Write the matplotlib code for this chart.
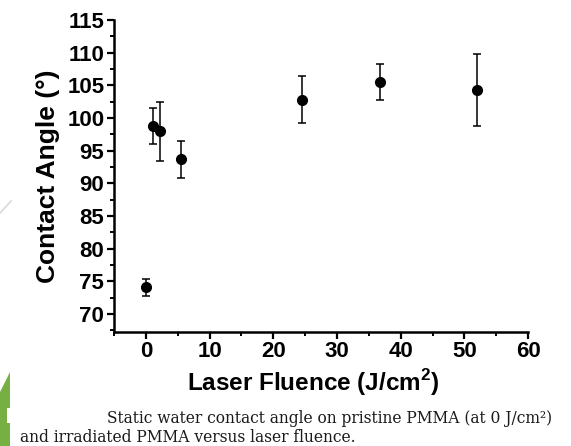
import matplotlib
matplotlib.use("Agg")
import matplotlib.pyplot as plt
from matplotlib.patches import Polygon, Rectangle
from matplotlib.lines import Line2D
from matplotlib.ticker import MultipleLocator

# laser fluence (J/cm^2) and static water contact angle (deg)
fluence = [0.0, 1.1, 2.2, 5.5, 24.5, 36.7, 52.0]
angle = [74.1, 98.8, 98.0, 93.7, 102.8, 105.5, 104.3]
angle_err = [1.3, 2.8, 4.5, 2.8, 3.6, 2.8, 5.5]

x_ticks = [0, 10, 20, 30, 40, 50, 60]
y_ticks = [70, 75, 80, 85, 90, 95, 100, 105, 110, 115]

caption_1 = "Static water contact angle on pristine PMMA (at 0 J/cm\u00b2)"
caption_2 = "and irradiated PMMA versus laser fluence."

plt.rcParams["font.family"] = ["Liberation Sans", "DejaVu Sans"]
plt.rcParams["mathtext.fontset"] = "custom"
plt.rcParams["mathtext.rm"] = "Liberation Sans"
plt.rcParams["mathtext.bf"] = "Liberation Sans:bold"

fig = plt.figure(figsize=(5.71, 4.46), dpi=100)
ax = fig.add_axes([0.1997, 0.2563, 0.7253, 0.6987])

ax.errorbar(fluence, angle, yerr=angle_err, fmt="o", color="black",
            markersize=7, elinewidth=1.1, capsize=3, capthick=1.1)

ax.set_xlim(-5, 60)
ax.set_ylim(67.3, 115)
ax.set_xticks(x_ticks)
ax.set_yticks(y_ticks)
ax.xaxis.set_minor_locator(MultipleLocator(5))
ax.yaxis.set_minor_locator(MultipleLocator(2.5))

for side in ["top", "right"]:
    ax.spines[side].set_visible(False)
for side in ["left", "bottom"]:
    ax.spines[side].set_linewidth(1.8)

ax.tick_params(which="major", direction="out", length=5, width=1.6,
               labelsize=16, pad=2)
ax.tick_params(which="minor", direction="out", length=3, width=1.4)
for lab in ax.get_xticklabels() + ax.get_yticklabels():
    lab.set_fontweight("bold")

ax.set_xlabel(r"Laser Fluence (J/cm$^{\mathbf{2}}$)", fontsize=17.5,
              fontweight="bold")
ax.xaxis.set_label_coords(0.48, -0.113)
ax.set_ylabel("Contact Angle (\u00b0)", fontsize=19, fontweight="bold",
              labelpad=5)

# caption under the chart
fig.text(107 / 571, 1 - 423 / 446, caption_1, family="DejaVu Serif",
         fontsize=11.2, color="#1a1a1a", va="baseline")
fig.text(20 / 571, 1 - 442 / 446, caption_2, family="DejaVu Serif",
         fontsize=11.2, color="#1a1a1a", va="baseline")

# slide decoration on the left edge
green = Polygon([[0, 1 - 392 / 446], [10 / 571, 1 - 372 / 446],
                 [10 / 571, 0], [0, 0]], closed=True,
                transform=fig.transFigure, facecolor="#76b043",
                edgecolor="none")
fig.patches.append(green)
notch = Rectangle((7 / 571, 1 - 423 / 446), 5 / 571, 15 / 446,
                  transform=fig.transFigure, facecolor="white",
                  edgecolor="none")
fig.patches.append(notch)
fig.lines.append(Line2D([0, 11 / 571], [1 - 213 / 446, 1 - 201 / 446],
                        transform=fig.transFigure, color="#d8d8d8", lw=1.2))

fig.savefig("out.png", dpi=100)
